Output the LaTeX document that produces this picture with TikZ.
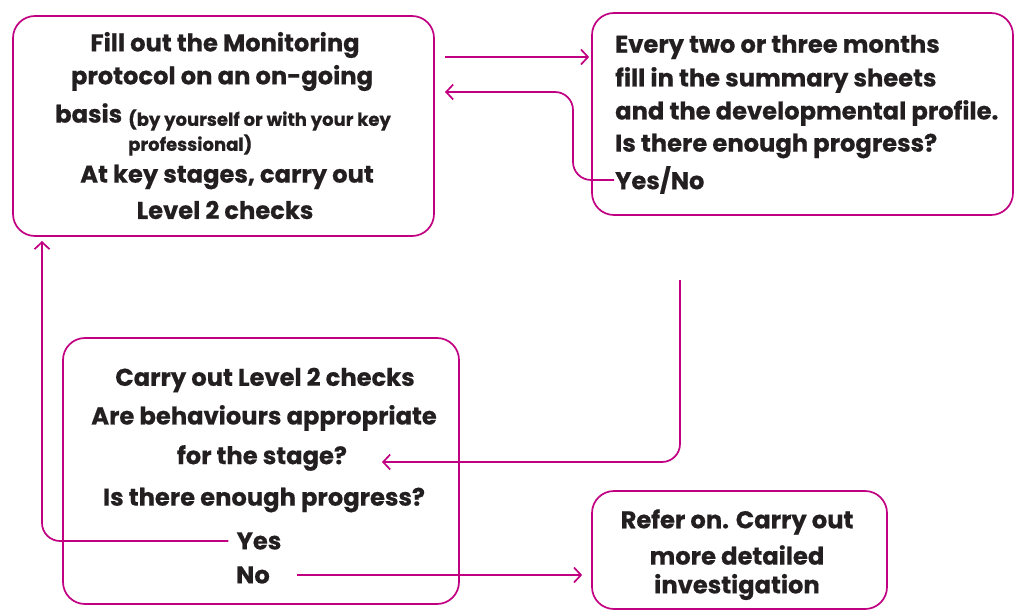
\documentclass[tikz,border=0pt]{standalone}
\usepackage{fontspec}
\setmainfont{Poppins}[BoldFeatures={FakeBold=0.6}]
\usetikzlibrary{arrows.meta,calc}
\definecolor{mag}{RGB}{192,0,128}
\definecolor{ink}{RGB}{35,31,32}
\begin{document}
\begin{tikzpicture}[x=1pt,y=-1pt,
  box/.style={draw=mag, line width=1.7pt, rounded corners=22pt, rectangle, inner sep=0pt},
  txt/.style={text=ink, font=\fontsize{24.2}{29}\selectfont\bfseries, inner sep=0pt},
  small/.style={text=ink, font=\fontsize{18}{21}\selectfont\bfseries, inner sep=0pt},
  arr/.style={draw=mag, line width=1.7pt, -{Straight Barb[length=7pt,width=15pt,line width=1.7pt]}},
  conn/.style={draw=mag, line width=1.7pt, rounded corners=18pt}]
\useasboundingbox (0,0) rectangle (1022,612);
% boxes
\node[box, minimum width=421pt, minimum height=220pt] (A) at (223.5,126) {};
\node[box, minimum width=421pt, minimum height=202pt] (B) at (802.5,114) {};
\node[box, minimum width=396pt, minimum height=266pt] (C) at (261,471) {};
\node[box, minimum width=295pt, minimum height=118pt] (D) at (739.5,550) {};
% box A text
\node[txt] (a1) at (225,45) {Fill out the Monitoring};
\node[txt] (a2) at (222,78) {protocol on an on-going};
\node[txt, anchor=west] (a3) at (55,113) {basis};
\node[small, anchor=west] (a4) at (128,120) {(by yourself or with your key};
\node[small, anchor=west] (a5) at (128,145) {professional)};
\node[txt] (a6) at (227,177) {At key stages, carry out};
\node[txt] (a7) at (225,210) {Level 2 checks};
% box B text
\node[txt, anchor=west] (b1) at (615,47) {Every two or three months};
\node[txt, anchor=west] (b2) at (615,80) {fill in the summary sheets};
\node[txt, anchor=west] (b3) at (615,113) {and the developmental profile.};
\node[txt, anchor=west] (b4) at (615,146) {Is there enough progress?};
\node[txt, anchor=west] (yesno) at (615,180) {Yes/No};
% box C text
\node[txt] (c1) at (265,380) {Carry out Level 2 checks};
\node[txt] (c2) at (264,418) {Are behaviours appropriate};
\node[txt] (stage) at (262,458) {for the stage?};
\node[txt] (c4) at (264,500) {Is there enough progress?};
\node[txt] (yes) at (259,541) {Yes};
\node[txt] (no) at (253,575) {No};
% box D text
\node[txt] (d1) at (737,522) {Refer on. Carry out};
\node[txt] (d2) at (737,555) {more detailed};
\node[txt] (d3) at (737,587) {investigation};
% connectors
\coordinate (p1) at (445,57);
\draw[arr, shorten >=2pt] (p1) -- (p1 -| B.west);
\coordinate (p2) at (445,92);
\coordinate (p2c) at (573,92);
\draw[arr, conn] ([xshift=-1pt]yesno.west) -| (p2c) -- (p2);
\coordinate (p3) at (680,280);
\coordinate (p3e) at (382,462);
\draw[arr, conn] (p3) |- (p3e);
\coordinate (p4) at (42,241);
\draw[arr, conn] ([xshift=-8pt]yes.west) -| (p4);
\draw[arr, shorten <=27pt, shorten >=9pt] (no.east) -- (no.east -| D.west);
\end{tikzpicture}
\end{document}
